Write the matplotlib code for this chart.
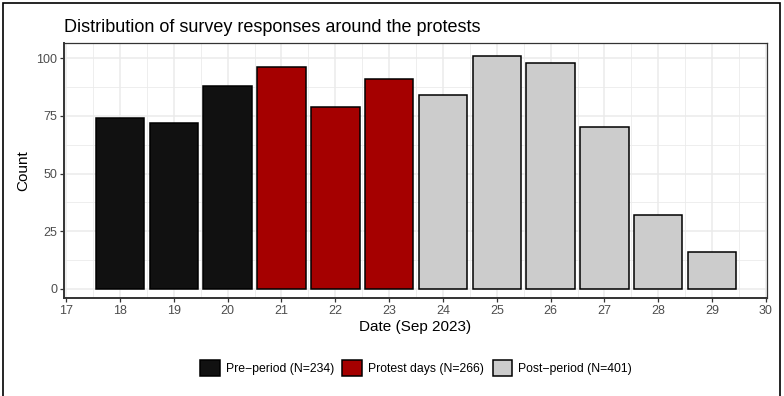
import matplotlib
matplotlib.use("Agg")
import matplotlib.pyplot as plt
from matplotlib.patches import Patch, Rectangle
import numpy as np

plt.rcParams['font.family'] = ['Liberation Sans', 'DejaVu Sans']

days = [18, 19, 20, 21, 22, 23, 24, 25, 26, 27, 28, 29]
counts = [74, 72, 88, 96, 79, 91, 84, 101, 98, 70, 32, 16]
periods = ["pre", "pre", "pre", "protest", "protest", "protest",
           "post", "post", "post", "post", "post", "post"]
period_names = ["pre", "protest", "post"]
period_labels = ["Pre\u2212period (N=234)", "Protest days (N=266)", "Post\u2212period (N=401)"]
period_colors = {"pre": "#111111", "protest": "#A50000", "post": "#CCCCCC"}

fig = plt.figure(figsize=(7.84, 3.96), dpi=100)
W, H = 784, 396
ax = fig.add_axes([64 / W, 1 - 298 / H, (767 - 64) / W, (298 - 43) / H])

ax.bar(days, counts, width=0.9, color=[period_colors[p] for p in periods],
       edgecolor="black", linewidth=1.1, zorder=3)

ax.set_xlim(16.96, 30.02)
ax.set_ylim(-3.9, 106.5)
ax.set_xticks(np.arange(17, 31, 1))
ax.set_xticks(np.arange(17.5, 30, 1), minor=True)
ax.set_yticks([0, 25, 50, 75, 100])
ax.set_yticks([12.5, 37.5, 62.5, 87.5], minor=True)
ax.grid(which="major", color="#EBEBEB", linewidth=1.1, zorder=0)
ax.grid(which="minor", color="#EBEBEB", linewidth=0.6, zorder=0)
ax.tick_params(which="major", length=3, width=0.9, color="#333333",
               labelsize=9, labelcolor="#4D4D4D", pad=2)
ax.tick_params(which="minor", length=0)
for s in ax.spines.values():
    s.set_color("#333333")
    s.set_linewidth(0.9)
ax.spines["left"].set_linewidth(1.4)
ax.spines["bottom"].set_linewidth(1.4)

ax.set_xlabel("Date (Sep 2023)", fontsize=11, labelpad=2)
ax.set_ylabel("Count", fontsize=11, labelpad=4)
fig.text(64 / W, 1 - 27 / H, "Distribution of survey responses around the protests",
         fontsize=13, va="center", ha="left")

handles = [Patch(facecolor=period_colors[p], edgecolor="black", linewidth=1.1)
           for p in period_names]
fig.legend(handles, period_labels, loc="center", bbox_to_anchor=(416 / W, 1 - 368 / H),
           ncol=3, frameon=False, fontsize=8.8, handlelength=1.6, handleheight=1.7,
           handletextpad=0.5, columnspacing=0.7)

fig.patches.append(Rectangle((3 / W, -0.05), (780 - 3) / W, 1.05 - 3 / H,
                             transform=fig.transFigure, fill=False,
                             edgecolor="black", linewidth=1.2))

fig.savefig("out.png", dpi=100, facecolor="white")
